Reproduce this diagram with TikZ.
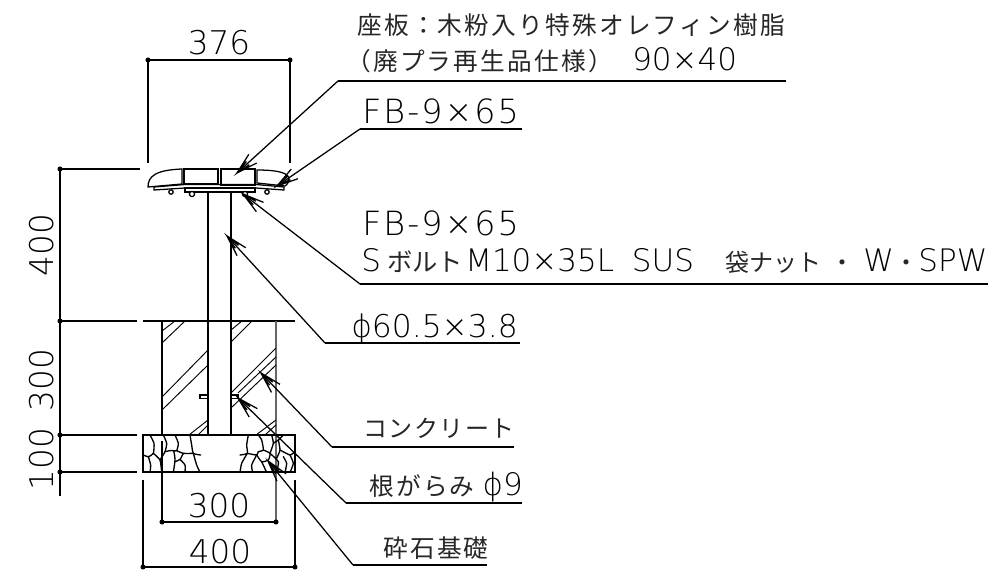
\documentclass[tikz,border=0pt]{standalone}
\usepackage{fontspec}
\setmainfont{Noto Sans CJK JP}
\newfontfamily\lat{DejaVu Sans ExtraLight}
\newfontfamily\jpa{Noto Sans CJK JP}[LetterSpace=9]
\newfontfamily\jpb{Noto Sans CJK JP}[LetterSpace=6]
\newfontfamily\latw{DejaVu Sans ExtraLight}[LetterSpace=6]
\usetikzlibrary{arrows.meta}
\pgfdeclarearrow{
  name=Barbs,
  parameters={},
  setup code={\pgfarrowssettipend{0pt}\pgfarrowssetbackend{-16pt}\pgfarrowssetlineend{-0.6pt}\pgfarrowshullpoint{0pt}{0pt}},
  drawing code={\pgfsetdash{}{0pt}%
    \pgfpathmoveto{\pgfqpoint{-16pt}{4.4pt}}\pgfpathlineto{\pgfqpoint{0pt}{0pt}}\pgfpathlineto{\pgfqpoint{-16pt}{-4.4pt}}%
    \pgfpathmoveto{\pgfqpoint{-11pt}{1.6pt}}\pgfpathlineto{\pgfqpoint{0pt}{0pt}}\pgfpathlineto{\pgfqpoint{-11pt}{-1.6pt}}%
    \pgfusepathqstroke}
}
\tikzset{
  x=0.75pt,y=-0.75pt,
  ln/.style={line width=0.95pt,black},
  grayln/.style={line width=1.1pt,black!60},
  hatch/.style={line width=0.7pt,black},
  stone/.style={line width=1pt,black,line cap=round},
  leader/.style={line width=0.95pt,black,-Barbs},
  dim/.style={line width=0.95pt,black},
  dot/.style={circle,fill=black,inner sep=0pt,minimum size=3.8pt},
  lab/.style={inner sep=0pt,anchor=base west,font=\fontsize{25}{28}\latw},
  jp/.style={inner sep=0pt,anchor=base west,text=black!85,font=\fontsize{18.5}{22}\jpa},
  jq/.style={inner sep=0pt,anchor=base west,text=black!85,font=\fontsize{18}{22}\jpb},
  num/.style={inner sep=0pt,anchor=center,font=\fontsize{24.5}{26}\lat},
}
\newcommand{\stn}[1]{\draw[stone] plot[smooth,tension=0.35] coordinates {#1};}
\begin{document}
\begin{tikzpicture}
\useasboundingbox (0,0) rectangle (1008,571);
% top dimension
\coordinate (tl) at (148,60); \coordinate (tr) at (290,60);
\draw[dim] (148,60) -- (148,163);
\draw[dim] (290,60) -- (290,163);
\draw[dim] (tl) -- (tr);
\node[dot] at (tl) {}; \node[dot] at (tr) {};
\node[num] (t376) at (219,43) {376};
% seat
\draw[ln] (148,187) .. controls (148,176) and (156,170) .. (182,169) -- (182,184) -- cycle;
\draw[ln] (184,169) rectangle (218,184);
\draw[ln] (221,169) rectangle (255,185);
\draw[ln] (257,170) .. controls (270,170) and (287,171) .. (289,178) .. controls (289,182) and (287,185) .. (285,186) -- (257,183) -- cycle;
\draw[ln] (154,187) -- (185,184.5) -- (256,184.5) -- (284,187) -- (284,190) -- (256,188) -- (185,188) -- (154,190) -- cycle;
\draw[ln] (185,188) rectangle (255,192);
\foreach \bx/\by/\br in {171/192/2.2,192/194/2.6,245/194/2.6,267/192/2.2}{
  \filldraw[ln,fill=white] (\bx,\by) circle[radius=\br];
}
% post
\draw[ln] (208,192) -- (208,435);
\draw[ln] (231,192) -- (231,435);
% ground line
\draw[ln] (60,321) -- (137,321);
\draw[ln] (143,321) -- (295,321);
% footing
\draw[ln] (162,321) -- (162,435);
\draw[grayln] (276,321) -- (276,524);
% hatch left
\draw[hatch] (162,331) -- (175,321);
\draw[hatch] (162,343) -- (185,321);
\draw[hatch] (162,397) -- (208,350);
\draw[hatch] (162,410) -- (208,365);
\draw[hatch] (189,435) -- (208,420);
\draw[hatch] (198,435) -- (208,425);
% hatch right
\draw[hatch] (231,330) -- (242,321);
\draw[hatch] (231,342) -- (252,321);
\draw[hatch] (231,393) -- (276,348);
\draw[hatch] (238,393) -- (276,357);
\draw[hatch] (231,408) -- (276,365);
\draw[hatch] (256,435) -- (276,420);
\draw[hatch] (265,435) -- (276,425);
% rebar
\draw[ln] (200,395) rectangle (208,398.5);
\draw[ln] (231,395) rectangle (238,398.5);
% gravel stones
\begin{scope}[shift={(130,420)},x=0.25pt,y=-0.25pt]
\stn{(60,45)(72,70)(70,100)(55,110)(40,105)}
\stn{(55,110)(62,135)(60,157)}
\stn{(70,100)(90,120)(95,157)}
\stn{(100,45)(110,70)(105,95)(90,120)}
\stn{(105,95)(130,92)(135,120)(130,157)}
\stn{(135,45)(145,70)(140,92)(130,92)}
\stn{(140,92)(160,100)(190,100)}
\stn{(160,100)(150,118)(135,125)}
\stn{(150,118)(165,135)(165,157)}
\stn{(180,45)(185,75)(190,100)(212,105)}
\stn{(190,100)(200,135)(210,157)}
\stn{(355,45)(350,75)(352,100)(330,105)}
\stn{(352,100)(335,130)(330,157)}
\stn{(352,100)(380,105)(385,95)(400,90)(395,60)(385,45)}
\stn{(380,105)(365,135)(368,157)}
\stn{(400,90)(420,100)(415,120)(395,125)(380,105)}
\stn{(395,125)(410,157)}
\stn{(420,100)(430,70)(425,45)}
\stn{(430,70)(445,60)(460,45)}
\stn{(420,100)(445,125)(440,157)}
\stn{(445,60)(450,90)(440,115)}
\stn{(450,90)(480,105)(495,95)}
\stn{(480,105)(490,130)(480,157)}
\stn{(460,110)(470,130)(465,157)}
\end{scope}
% gravel base outline
\draw[ln] (143,435) rectangle (295,472);
% left dimension
\coordinate (d1) at (60,169); \coordinate (d2) at (60,321); \coordinate (d3) at (60,435); \coordinate (d4) at (60,472);
\draw[dim] (d1) -- (140,169);
\draw[dim] (d3) -- (137,435);
\draw[dim] (d4) -- (137,472);
\draw[dim] (d1) -- (60,496);
\node[dot] at (d1) {}; \node[dot] at (d2) {}; \node[dot] at (d3) {}; \node[dot] at (d4) {};
\node[num,rotate=90] (d400) at (41.5,245) {400};
\node[num,rotate=90] (d300) at (41.5,380) {300};
\node[num,rotate=90] (d100) at (41.5,459) {100};
% bottom dims
\coordinate (e1) at (162,522); \coordinate (e2) at (276,522);
\draw[dim] (162,441) -- (e1);
\draw[dim] (e1) -- (e2);
\node[dot] at (e1) {}; \node[dot] at (e2) {};
\node[num] (b300) at (219,506) {300};
\coordinate (f1) at (143,567); \coordinate (f2) at (295,567);
\draw[dim] (143,480) -- (f1);
\draw[dim] (295,480) -- (f2);
\draw[dim] (f1) -- (f2);
\node[dot] at (f1) {}; \node[dot] at (f2) {};
\node[num] (b400) at (220,552) {400};
% labels
\node[jp] (l1) at (357,35) {座板：木粉入り特殊オレフィン樹脂};
\node[jp] (l2) at (346,70) {\makebox[214.5pt][l]{（廃プラ再生品仕様）}{\fontsize{23.25}{26}\lat\color{black} 90×40}};
\coordinate (u1) at (338,81); \draw[dim] (u1) -- (786,81);
\node[lab] (l3) at (362,123) {FB-9×65};
\coordinate (u2) at (360,129); \draw[dim] (u2) -- (522,129);
\node[lab] (l4) at (362,235) {FB-9×65};
\node[inner sep=0pt,anchor=base west] (l5) at (361,271) {\fontsize{23.25}{26}\lat
  \makebox[19.5pt][l]{S}\makebox[58.5pt][l]{\fontsize{19}{22}\selectfont\rmfamily\color{black!85} ボルト}\makebox[125pt][l]{M10×35L}\makebox[70.5pt][l]{SUS}\makebox[71.5pt][l]{\fontsize{18}{22}\selectfont\rmfamily\color{black!85} 袋ナット}\makebox[31.5pt][c]{\fontsize{18}{22}\selectfont\rmfamily\color{black!85} ・}W\makebox[18.4pt][c]{\fontsize{18}{22}\selectfont\rmfamily\color{black!85} ・}SPW};
\coordinate (u3) at (360,284); \draw[dim] (u3) -- (988,284);
\node[inner sep=0pt,anchor=base west,font=\fontsize{23.5}{26}\lat] (l6) at (351,337) {ϕ60.5×3.8};
\coordinate (u4) at (325,343); \draw[dim] (u4) -- (520,343);
\node[jq] (l7) at (363,437) {コンクリート};
\coordinate (u5) at (332,447); \draw[dim] (u5) -- (514,447);
\node[jp] (l8) at (369,495) {根がらみ\makebox[6pt]{}{\fontsize{23.25}{26}\lat\color{black} ϕ9}};
\coordinate (u6) at (346,503); \draw[dim] (u6) -- (522,503);
\node[jp] (l9) at (383,557) {砕石基礎};
\coordinate (u7) at (353,565); \draw[dim] (u7) -- (487,565);
% leaders
\coordinate (a1) at (237,173); \draw[leader] (u1) -- (a1);
\coordinate (a2) at (277,186); \draw[leader] (u2) -- (a2);
\coordinate (a3) at (243,194); \draw[leader] (u3) -- (a3);
\coordinate (a4) at (227,236); \draw[leader] (u4) -- (a4);
\coordinate (a5) at (261,373); \draw[leader] (u5) -- (a5);
\coordinate (a6) at (238,398); \draw[leader] (u6) -- (a6);
\coordinate (a7) at (268,461); \draw[leader] (u7) -- (a7);
\end{tikzpicture}
\end{document}
